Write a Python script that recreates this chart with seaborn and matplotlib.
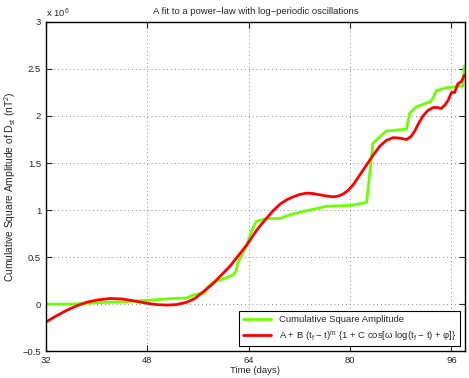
import numpy as np
import pandas as pd
import matplotlib
matplotlib.use("Agg")
import matplotlib.pyplot as plt
import seaborn as sns

# datos (valores en unidades de 1e6 nT^2)
green_days = [32, 36, 40, 44, 48, 52, 54.2, 55, 56, 57, 57.4, 58.3, 60, 61.5, 62, 62.3,
              63.7, 64.4, 65.2, 66.8, 68.9, 71.0, 73.6, 76.3, 80.2, 82.6, 83.6, 85.7,
              88.9, 89.4, 90.5, 92.6, 93.1, 93.6, 95.2, 97.8, 98.0]
green_vals = [0.0, 0.0, 0.015, 0.025, 0.04, 0.06, 0.065, 0.09, 0.11, 0.115, 0.17, 0.23,
              0.27, 0.31, 0.35, 0.44, 0.63, 0.77, 0.88, 0.91, 0.91, 0.96, 1.0, 1.04,
              1.05, 1.08, 1.71, 1.84, 1.86, 2.03, 2.10, 2.15, 2.19, 2.27, 2.30, 2.32, 2.53]

red_days = [32, 33.5, 35.3, 36.8, 38.4, 40.2, 42.1, 44.0, 45.8, 47.9, 49.5, 51.0, 52.6,
            54.2, 55.5, 56.8, 58.4, 59.4, 60.2, 61.0, 62.3, 63.7, 64.5, 65.2, 66.0, 66.8,
            67.8, 68.9, 70.0, 71.0, 72.0, 73.1, 74.2, 75.8, 77.3, 78.2, 78.9, 79.7, 80.5,
            81.5, 82.6, 83.6, 84.7, 85.7, 86.8, 87.8, 88.9, 89.6, 90.2, 90.8, 91.5, 92.3,
            93.1, 93.8, 94.4, 95.0, 95.5, 96.0, 96.5, 97.0, 97.6, 98.0]
red_vals = [-0.19, -0.13, -0.065, -0.02, 0.02, 0.045, 0.06, 0.055, 0.035, 0.01, -0.005,
            -0.01, -0.005, 0.02, 0.06, 0.13, 0.22, 0.29, 0.345, 0.40, 0.51, 0.63, 0.71,
            0.78, 0.85, 0.91, 0.99, 1.06, 1.11, 1.14, 1.165, 1.18, 1.175, 1.155, 1.14,
            1.15, 1.17, 1.21, 1.27, 1.37, 1.48, 1.58, 1.68, 1.74, 1.77, 1.765, 1.75, 1.78,
            1.84, 1.92, 2.0, 2.06, 2.09, 2.09, 2.08, 2.12, 2.17, 2.25, 2.25, 2.34, 2.37, 2.43]

xticks = [32, 48, 64, 80, 96]
yticks = [-0.5, 0, 0.5, 1, 1.5, 2, 2.5, 3]

green_label = "Cumulative Square Amplitude"
red_label = r"A + B (t$_f$ − t)$^m$ {1 + C cos[ω log(t$_f$ − t) + φ]}"

fs = 6.8
sns.set_style("ticks")
plt.rcParams['font.family'] = ['Liberation Sans', 'DejaVu Sans']
plt.rcParams['mathtext.fontset'] = 'custom'
plt.rcParams['mathtext.rm'] = 'Liberation Sans'
plt.rcParams['mathtext.it'] = 'Liberation Sans'
plt.rcParams['font.size'] = fs

dfg = pd.DataFrame({'t': green_days, 'v': green_vals})
dfr = pd.DataFrame({'t': red_days, 'v': red_vals})

fig = plt.figure(figsize=(4.69, 3.78), dpi=100)
ax = fig.add_axes([0.098, 0.071, 0.893, 0.871])

sns.lineplot(data=dfg, x='t', y='v', ax=ax, color='#6cff00', linewidth=2, label=green_label)
sns.lineplot(data=dfr, x='t', y='v', ax=ax, color='#ff0000', linewidth=2, label=red_label)

ax.set_xlim(32, 98.1)
ax.set_ylim(-0.5, 3)
ax.set_xticks(xticks)
ax.set_yticks(yticks)
ax.set_yticklabels([f"{v:g}".replace('-', '−') for v in yticks])
ax.grid(True, linestyle=(0, (1, 3)), color='#888888', linewidth=0.7)
ax.tick_params(direction='in', top=True, right=True, length=4, width=0.8, labelsize=fs)
for s in ax.spines.values():
    s.set_linewidth(1)
    s.set_color('black')

ax.set_xlabel("Time (days)", fontsize=fs, labelpad=1)
ax.set_ylabel(r"Cumulative Square Amplitude of D$_{st}$ (nT$^2$)", fontsize=7.4)
ax.yaxis.set_label_coords(-0.066, 0.5)
ax.set_title("A fit to a power−law with log−periodic oscillations", fontsize=fs, pad=6)
ax.text(0.0, 1.005, r"x 10$^6$", transform=ax.transAxes, fontsize=fs, va='bottom', ha='left')

leg = ax.legend(loc='lower right', fontsize=fs, frameon=True, fancybox=False,
                edgecolor='black', framealpha=1, borderaxespad=0.5, handlelength=3.0)
leg.get_frame().set_linewidth(0.8)

plt.savefig('out.png', dpi=100)
